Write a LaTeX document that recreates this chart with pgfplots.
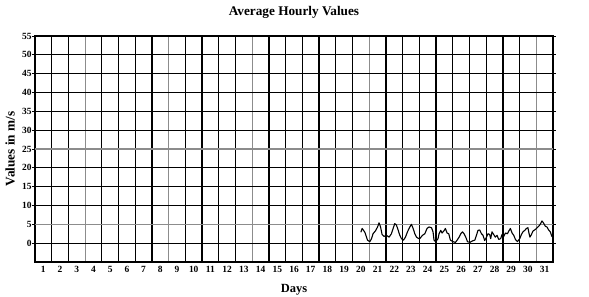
\documentclass[border=0pt]{standalone}
\usepackage{fontspec}
\setmainfont{Liberation Serif}
\usepackage{pgfplots}
\pgfplotsset{compat=1.18}
\begin{document}
\begin{tikzpicture}
\useasboundingbox (-35bp,-35bp) rectangle (554bp,262bp);
\begin{axis}[
  at={(0,0)}, anchor=south west,
  scale only axis, width=518bp, height=226bp,
  xmin=1, xmax=32, ymin=-5, ymax=55,
  axis line style={black, line width=1.5bp},
  xtick={2,3,5,6,7,8,10,11,12,13,15,16,17,18,19,20,22,23,24,25,26,27,28,29,30},
  xticklabels={},
  major x tick style={draw=none},
  minor xtick={4,9,14,21,31},
  minor x tick style={draw=none},
  xmajorgrids, xminorgrids,
  major grid style={black, line width=1.25bp},
  minor grid style={black!45, line width=1.25bp},
  extra x ticks={1.5,2.5,...,31.5},
  extra x tick labels={1,2,3,4,5,6,7,8,9,10,11,12,13,14,15,16,17,18,19,20,21,22,23,24,25,26,27,28,29,30,31},
  extra x tick style={grid=none, major tick length=0pt, tick style={draw=none}},
  ytick={0,5,...,55},
  ymajorgrids,
  y tick style={black, line width=0.8bp},
  tick align=outside, major tick length=2.5bp,
  yticklabel style={inner xsep=0.6bp},
  xticklabel style={yshift=-0.5bp},
  ticklabel style={font=\bfseries\fontsize{9.5}{10}\selectfont},
  /pgf/number format/assume math mode=true,
  title={Average Hourly Values},
  title style={at={(axis description cs:0.5,1.08)}, anchor=center, font=\bfseries\fontsize{13.3}{15}\selectfont},
  xlabel={Days},
  xlabel style={at={(axis description cs:0.5,-0.124)}, anchor=center, font=\bfseries\fontsize{12.5}{14}\selectfont},
  ylabel={Values in m/s},
  ylabel style={at={(axis description cs:-0.048,0.5)}, anchor=center, rotate=0, font=\bfseries\fontsize{13.3}{15}\selectfont},
  clip=false,
]
% gray horizontal grid lines at 5 and 25
\addplot[black!45, line width=1.25bp, forget plot] coordinates {(1,5) (32,5)};
\addplot[black!45, line width=1.25bp, forget plot] coordinates {(1,25) (32,25)};
% data
\addplot[black, line width=1.1bp, line join=round] table {
x y
20.50 2.9
20.58 3.9
20.74 2.9
20.90 0.8
21.04 0.4
21.14 1.2
21.23 2.5
21.38 3.3
21.50 4.3
21.59 5.4
21.68 4.3
21.77 2.3
21.89 1.8
22.03 2.1
22.19 1.6
22.33 2.5
22.43 3.9
22.53 5.2
22.63 4.8
22.73 3.5
22.83 2.1
22.93 1.2
23.05 0.8
23.17 1.6
23.29 3.0
23.43 4.3
23.53 5.0
23.63 3.9
23.73 2.5
23.83 1.6
23.97 1.2
24.03 1.2
24.19 2.1
24.33 2.5
24.46 3.9
24.58 4.3
24.73 4.1
24.82 3.0
24.88 0.8
24.98 0.4
25.12 1.2
25.18 2.5
25.28 3.4
25.36 2.7
25.46 3.2
25.56 3.9
25.66 2.7
25.76 2.5
25.86 0.8
26.02 0.4
26.16 0.2
26.26 0.8
26.38 1.6
26.48 2.5
26.58 3.0
26.68 2.5
26.78 1.6
26.88 0.4
27.02 0.2
27.18 0.6
27.32 0.8
27.42 2.1
27.51 3.4
27.61 3.5
27.72 2.5
27.81 2.1
27.91 0.7
28.02 1.6
28.11 2.5
28.21 2.3
28.27 1.2
28.35 3.0
28.45 2.3
28.55 1.6
28.65 2.1
28.75 1.0
28.87 1.2
28.95 2.3
29.05 1.8
29.15 2.7
29.27 2.5
29.35 3.2
29.45 3.9
29.55 2.7
29.65 2.1
29.75 1.0
29.87 0.4
30.01 1.2
30.11 2.3
30.20 3.0
30.31 3.4
30.41 3.9
30.50 4.1
30.56 2.7
30.62 1.6
30.71 2.3
30.80 3.2
30.90 3.5
31.01 3.9
31.10 4.3
31.20 4.8
31.26 5.2
31.34 5.9
31.44 5.3
31.54 4.5
31.64 4.3
31.74 3.5
31.84 3.0
31.92 1.9
32.00 1.6
};
\end{axis}
\end{tikzpicture}
\end{document}
